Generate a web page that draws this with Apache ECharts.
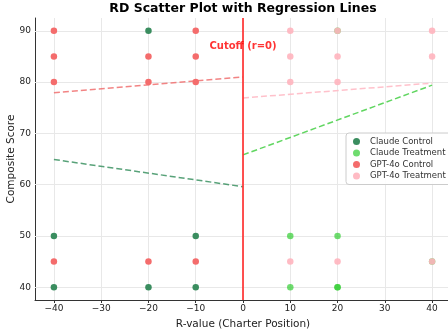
<!DOCTYPE html>
<html><head><meta charset="utf-8">
<script src="https://cdn.jsdelivr.net/npm/echarts@6/dist/echarts.min.js"></script>
<style>html,body{margin:0;padding:0;background:#fff}#c{width:448px;height:332px}</style>
</head><body><div id="c"></div>
<script>
const xTicks = [-40, -30, -20, -10, 0, 10, 20, 30, 40];
const yTicks = [40, 50, 60, 70, 80, 90];
const claudeControl = [[-40,50],[-40,40],[-20,90],[-20,40],[-10,50],[-10,40]];
const claudeTreatment = [[10,50],[10,40],[20,50],[20,40],[20,40],[20,90],[40,45]];
const gptControl = [[-40,90],[-40,85],[-40,80],[-40,45],[-20,85],[-20,80],[-20,45],[-10,90],[-10,85],[-10,80],[-10,45]];
const gptTreatment = [[10,90],[10,85],[10,80],[10,45],[20,90],[20,85],[20,80],[20,45],[40,90],[40,85],[40,45]];
const fitClaudeControl = [[-40,64.9],[0,59.6]];
const fitClaudeTreatment = [[0,65.8],[40,79.4]];
const fitGptControl = [[-40,77.9],[0,81.0]];
const fitGptTreatment = [[0,76.9],[40,79.8]];
const cutoffLabel = [[0,87]];

const chart = echarts.init(document.getElementById('c'), null, {renderer:'canvas'});
const fmt = v => String(v).replace('-', '\u2212');
const font = 'DejaVu Sans';
const gridCol = '#e8e8e8';
function sc(name, data, color, z){
  return {name, type:'scatter', data, symbolSize:6.5, z, itemStyle:{color, opacity:1}};
}
function fit(data, color){
  return {type:'line', data, showSymbol:false, symbol:'none', silent:true, z:3,
    lineStyle:{color, width:1.5, type:[6,3]}};
}
// plot area: x -44..44 over 35..451 ; y 37.5..92.5 over 18..300
const pxX = 416/88, pxY = 282/55;
const tickAxisCommon = {
  axisLine:{show:false},
  axisTick:{show:true, length:3, lineStyle:{color:'#333'}},
  splitLine:{show:false}
};
chart.setOption({
  animation:false,
  textStyle:{fontFamily:font},
  grid:[
    {left:35, top:18, right:-3, bottom:32, outerBoundsMode:'none', containLabel:false},
    {left:35+4*pxX, right:-3+4*pxX, top:18+2.5*pxY, bottom:32+2.5*pxY, outerBoundsMode:'none', containLabel:false}
  ],
  graphic:[{type:'text', x:243, y:2, style:{text:'RD Scatter Plot with Regression Lines', fontFamily:font, fontSize:12.5, fontWeight:'bold', fill:'#000', textAlign:'center'}}],
  legend:{orient:'vertical', left:346, top:133, itemWidth:17, itemHeight:7, itemGap:2.5, icon:'circle', z:6,
    textStyle:{fontFamily:font, fontSize:8.5, color:'#333'},
    borderColor:'#ccc', borderWidth:1, borderRadius:3, backgroundColor:'rgba(255,255,255,0.9)', padding:[4,6,4,7],
    data:['Claude Control','Claude Treatment','GPT-4o Control','GPT-4o Treatment']},
  xAxis:[
    {type:'value', gridIndex:0, min:-44, max:44,
      name:'R-value (Charter Position)', nameLocation:'middle', nameGap:19,
      nameTextStyle:{fontFamily:font, fontSize:10.5, color:'#222'},
      axisLine:{show:true, onZero:false, lineStyle:{color:'#333', width:1}},
      axisTick:{show:false}, axisLabel:{show:false}, splitLine:{show:false}},
    Object.assign({type:'value', gridIndex:1, min:xTicks[0], max:xTicks[xTicks.length-1], interval:10, offset:2.5*pxY,
      axisLabel:{fontFamily:font, fontSize:9, color:'#222', margin:4, formatter:fmt}}, tickAxisCommon)
  ],
  yAxis:[
    {type:'value', gridIndex:0, min:37.5, max:92.5,
      name:'Composite Score', nameLocation:'middle', nameGap:18,
      nameTextStyle:{fontFamily:font, fontSize:10.5, color:'#222'},
      axisLine:{show:true, onZero:false, lineStyle:{color:'#333', width:1}},
      axisTick:{show:false}, axisLabel:{show:false}, splitLine:{show:false}},
    Object.assign({type:'value', gridIndex:1, min:yTicks[0], max:yTicks[yTicks.length-1], interval:10, offset:4*pxX,
      axisLabel:{fontFamily:font, fontSize:9, color:'#222', margin:4, formatter:fmt}}, tickAxisCommon)
  ],
  series:[
    {type:'line', data:[], silent:true, z:1,
      markLine:{silent:true, z:1, symbol:'none', label:{show:false}, animation:false,
        lineStyle:{color:gridCol, width:1, type:'solid'},
        data: xTicks.map(v=>({xAxis:v})).concat(yTicks.map(v=>({yAxis:v})))}},
    sc('Claude Control', claudeControl, '#3a8d5f', 4),
    sc('Claude Treatment', claudeTreatment, 'rgba(50,205,50,0.7)', 4),
    sc('GPT-4o Control', gptControl, '#f46c6c', 5),
    sc('GPT-4o Treatment', gptTreatment, 'rgba(255,180,190,0.9)', 5),
    fit(fitClaudeControl, 'rgba(46,139,87,0.8)'),
    fit(fitClaudeTreatment, 'rgba(80,210,80,0.9)'),
    fit(fitGptControl, 'rgba(240,110,110,0.85)'),
    fit(fitGptTreatment, 'rgba(255,190,200,0.95)'),
    {type:'scatter', data:cutoffLabel, symbolSize:0, silent:true, z:6,
      label:{show:true, position:'inside', formatter:'Cutoff (r=0)', fontFamily:font, fontSize:10, fontWeight:'bold', color:'#ff0000'},
      markLine:{silent:true, z:5, symbol:'none', label:{show:false}, lineStyle:{color:'rgba(255,50,50,0.85)', width:2, type:'solid'}, data:[{xAxis:0}]}}
  ]
});
</script></body></html>
